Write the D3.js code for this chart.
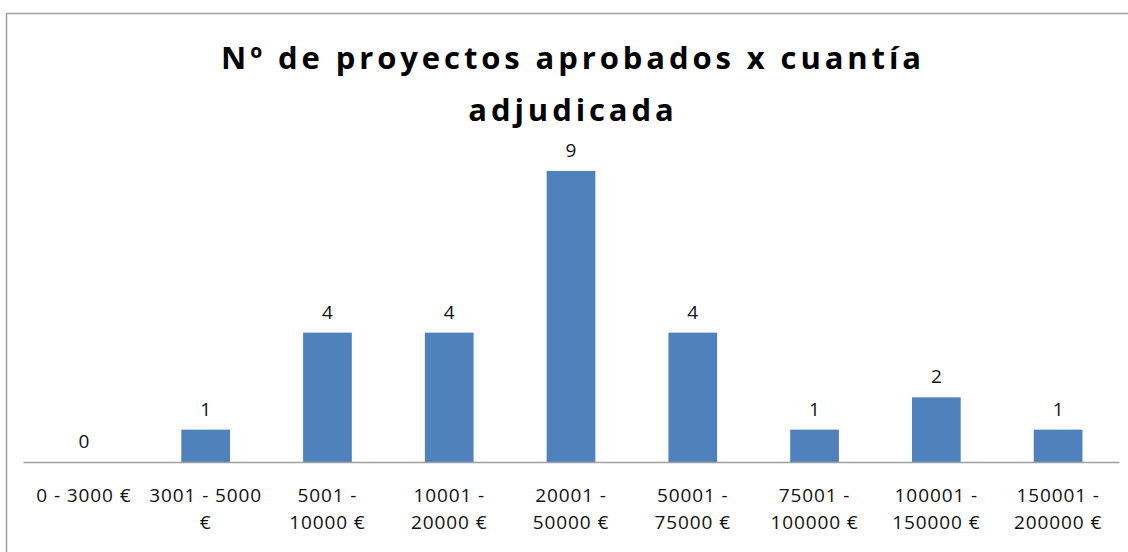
<!DOCTYPE html>
<html>
<head>
<meta charset="utf-8">
<script src="https://cdn.jsdelivr.net/npm/d3@7"></script>
<style>
  html, body { margin: 0; padding: 0; background: #fff; overflow: hidden; }
  svg { display: block; font-family: "Open Sans", sans-serif; }
</style>
</head>
<body>
<div id="chart"></div>
<script>
// data
const categories = [
  '0 - 3000 €', '3001 - 5000\n€', '5001 -\n10000 €', '10001 -\n20000 €',
  '20001 -\n50000 €', '50001 -\n75000 €', '75001 -\n100000 €',
  '100001 -\n150000 €', '150001 -\n200000 €'
];
const values = [0, 1, 4, 4, 9, 4, 1, 2, 1];
const titleLines = ['Nº de proyectos aprobados x cuantía', 'adjudicada'];

const width = 1128, height = 552;
const svg = d3.select('#chart').append('svg')
  .attr('width', width).attr('height', height);

// outer chart frame (runs off the right/bottom edge)
svg.append('rect')
  .attr('x', 6.5).attr('y', 13.5)
  .attr('width', 1140).attr('height', 560)
  .attr('fill', '#fff').attr('stroke', '#a0a0a0').attr('stroke-width', 1.5);

// title
const title = svg.append('text')
  .attr('text-anchor', 'middle')
  .style('font-size', '31px').style('font-weight', 'bold')
  .style('letter-spacing', '3.9px')
  .attr('fill', '#000');
titleLines.forEach((t, i) => {
  title.append('tspan').attr('x', 573).attr('y', 69 + i * 52).text(t);
});

const plotLeft = 23, plotRight = 1119, baseY = 462;
const x = d3.scaleBand().domain(categories).range([plotLeft, plotRight])
  .paddingInner(0.6).paddingOuter(0.3);
const y = d3.scaleLinear().domain([0, 10]).range([baseY, baseY - 323.4]);

const g = svg.append('g');

g.selectAll('.bar').data(values).enter().append('rect')
  .attr('class', 'bar')
  .attr('x', (d, i) => x(categories[i]))
  .attr('width', x.bandwidth())
  .attr('y', d => y(d))
  .attr('height', d => baseY - y(d))
  .attr('fill', '#4f81bd');

g.selectAll('.val').data(values).enter().append('text')
  .attr('class', 'val')
  .attr('x', (d, i) => x(categories[i]) + x.bandwidth() / 2)
  .attr('y', d => y(d) - 14)
  .attr('text-anchor', 'middle')
  .style('font-size', '19px')
  .attr('fill', '#111')
  .text(d => d);

// category axis
const axis = g.append('g').attr('transform', `translate(0,${baseY})`)
  .call(d3.axisBottom(x).tickSize(0).tickFormat(''));
axis.select('.domain').attr('stroke', '#a0a0a0').attr('stroke-width', 1.5);

const labels = g.selectAll('.cat').data(categories).enter().append('text')
  .attr('class', 'cat')
  .attr('text-anchor', 'middle')
  .style('font-size', '19px')
  .style('letter-spacing', '0.9px')
  .attr('fill', '#111');
labels.each(function (c) {
  const cx = x(c) + x.bandwidth() / 2;
  c.split('\n').forEach((line, i) => {
    d3.select(this).append('tspan').attr('x', cx).attr('y', 502 + i * 27).text(line);
  });
});
</script>
</body>
</html>
